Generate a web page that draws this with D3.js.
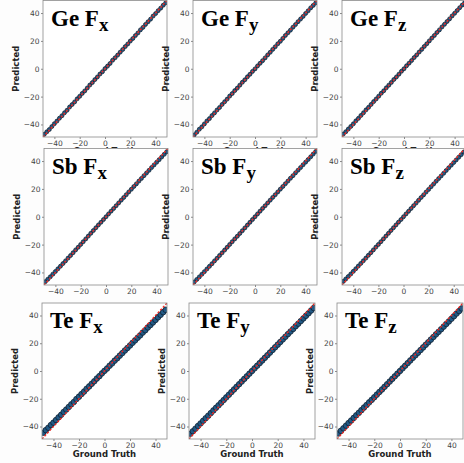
<!DOCTYPE html>
<html>
<head>
<meta charset="utf-8">
<script src="https://cdn.jsdelivr.net/npm/d3@7"></script>
<style>
  body { margin: 0; background: #fff; }
  svg { display: block; }
</style>
</head>
<body>
<div id="chart"></div>
<script>
// ground truth force values (shared x positions for every panel)
var truth = [-48,-46,-44,-42,-40,-38,-36,-34,-32,-30,-28,-26,-24,-22,-20,-18,-16,-14,-12,-10,-8,-6,-4,-2,0,
             2,4,6,8,10,12,14,16,18,20,22,24,26,28,30,32,34,36,38,40,42,44,46,48];

// predicted values, one array per panel
var ge_fx = [-47.1,-45.3,-43.6,-41.5,-39.4,-37.6,-35.5,-33.7,-31.6,-29.8,-27.5,-25.7,-23.8,-21.6,-19.8,-17.7,-15.9,-13.8,-11.7,-9.9,-7.8,-5.9,-3.8,-2.1,0.1,
             1.9,3.8,6.1,7.9,9.8,11.9,13.8,15.9,17.8,19.9,21.7,23.8,25.7,27.9,29.7,31.8,33.7,35.6,37.8,39.6,41.7,43.5,45.6,47.4];
var ge_fy = [-47.5,-45.6,-43.4,-41.7,-39.6,-37.5,-35.8,-33.6,-31.7,-29.6,-27.8,-25.6,-23.7,-21.8,-19.6,-17.8,-15.7,-13.9,-11.8,-9.7,-7.9,-5.8,-4.0,-1.9,-0.1,
             2.0,3.9,5.8,7.8,9.9,11.8,13.9,15.8,17.9,19.7,21.8,23.9,25.8,27.7,29.8,31.7,33.8,35.7,37.6,39.7,41.6,43.7,45.5,47.3];
var ge_fz = [-46.9,-45.2,-43.3,-41.4,-39.5,-37.4,-35.6,-33.5,-31.6,-29.5,-27.7,-25.6,-23.6,-21.7,-19.7,-17.6,-15.8,-13.7,-11.8,-9.8,-7.7,-5.9,-3.9,-1.8,0.0,
             2.1,4.0,5.9,8.0,9.9,12.0,13.9,16.0,17.9,20.0,22.0,23.9,26.0,27.9,30.0,31.9,33.9,35.8,37.9,39.8,41.8,43.8,45.7,47.6];
var sb_fx = [-46.6,-44.9,-43.1,-41.2,-39.3,-37.4,-35.5,-33.6,-31.7,-29.7,-27.8,-25.8,-23.8,-21.9,-19.9,-17.9,-15.9,-13.9,-11.9,-9.9,-7.9,-5.9,-4.0,-2.0,0.0,
             2.0,4.0,5.9,7.9,9.9,11.9,13.8,15.8,17.8,19.7,21.7,23.6,25.6,27.5,29.5,31.4,33.3,35.3,37.2,39.1,41.0,42.9,44.8,46.7];
var sb_fy = [-46.8,-45.0,-43.2,-41.3,-39.4,-37.5,-35.6,-33.7,-31.7,-29.8,-27.8,-25.9,-23.9,-21.9,-19.9,-17.9,-15.9,-14.0,-12.0,-10.0,-8.0,-6.0,-4.0,-2.0,0.0,
             2.0,4.0,6.0,7.9,9.9,11.9,13.9,15.8,17.8,19.8,21.7,23.7,25.6,27.6,29.5,31.5,33.4,35.3,37.3,39.2,41.1,43.0,45.0,46.9];
var sb_fz = [-46.4,-44.7,-42.9,-41.1,-39.2,-37.3,-35.4,-33.5,-31.6,-29.7,-27.7,-25.8,-23.8,-21.8,-19.9,-17.9,-15.9,-13.9,-11.9,-9.9,-7.9,-5.9,-3.9,-2.0,0.0,
             2.0,3.9,5.9,7.9,9.8,11.8,13.8,15.7,17.7,19.6,21.6,23.5,25.5,27.4,29.3,31.2,33.2,35.1,37.0,38.9,40.8,42.7,44.6,46.5];
var te_fx = [-44.5,-42.6,-40.9,-38.9,-37.2,-35.3,-33.4,-31.6,-29.5,-27.8,-25.9,-24.0,-22.3,-20.2,-18.5,-16.6,-14.8,-12.8,-11.1,-9.2,-7.4,-5.4,-3.7,-1.7,0.1,
             1.8,3.8,5.5,7.5,9.2,11.1,12.9,14.8,16.6,18.4,20.3,22.1,24.0,25.7,27.7,29.4,31.4,33.1,35.0,36.8,38.7,40.5,42.4,44.1];
var te_fy = [-45.2,-43.4,-41.6,-39.6,-37.8,-35.9,-34.0,-32.2,-30.3,-28.4,-26.5,-24.7,-22.8,-20.9,-19.0,-17.1,-15.2,-13.3,-11.4,-9.5,-7.6,-5.7,-3.8,-1.9,0.0,
             1.9,3.8,5.7,7.6,9.5,11.4,13.3,15.2,17.1,19.0,20.9,22.8,24.7,26.6,28.5,30.3,32.3,34.1,36.0,37.9,39.8,41.6,43.6,45.4];
var te_fz = [-45.0,-43.1,-41.3,-39.4,-37.5,-35.7,-33.8,-31.9,-30.1,-28.2,-26.3,-24.5,-22.6,-20.8,-18.9,-17.0,-15.1,-13.3,-11.4,-9.5,-7.6,-5.7,-3.8,-1.9,0.0,
             1.9,3.8,5.7,7.6,9.5,11.3,13.2,15.1,17.0,18.9,20.7,22.6,24.5,26.4,28.2,30.1,32.0,33.9,35.7,37.6,39.5,41.4,43.2,45.1];

var elements = ["Ge", "Sb", "Te"];
var components = ["x", "y", "z"];
var predicted = [[ge_fx, ge_fy, ge_fz], [sb_fx, sb_fy, sb_fz], [te_fx, te_fy, te_fz]];
var tick_values = [-40, -20, 0, 20, 40];
var axis_domain = [-49, 49];

var W = 464, H = 463;

//Pixel boxes of each panel, the figure is a collage of separate plots
var rows = [
  {top: 0.5, bottom: 137, bg: 0, gt: 154, cols: [[43, 167], [193, 317], [342, 466]]},
  {top: 148.5, bottom: 285, bg: 148, gt: 308.5, cols: [[44, 168], [193, 317], [342, 465]]},
  {top: 303, bottom: 439, bg: 301.5, gt: 457, cols: [[42, 167], [189, 315], [337, 463]]}
];

var svg = d3.select("#chart")
  .append("svg")
  .attr("width", W)
  .attr("height", H);

svg.append("rect")
  .attr("width", W)
  .attr("height", H)
  .attr("fill", "#fdfdfd");

var fmt = function(d){ return d < 0 ? "\u2212" + Math.abs(d) : d; };

rows.forEach(function(row, r){
  //white band of this row's images, hides the x label of the row above
  svg.append("rect")
    .attr("x", 0)
    .attr("y", row.bg)
    .attr("width", W)
    .attr("height", H - row.bg)
    .attr("fill", "#fdfdfd");

  row.cols.forEach(function(c, k){
    var left = c[0], right = c[1];
    var x = d3.scaleLinear().domain(axis_domain).range([left, right]);
    var y = d3.scaleLinear().domain(axis_domain).range([row.bottom, row.top]);
    var pred = predicted[r][k];

    var g = svg.append("g");

    g.append("rect")
      .attr("x", left)
      .attr("y", row.top)
      .attr("width", right - left)
      .attr("height", row.bottom - row.top)
      .attr("fill", "#fff");

    var clipId = "clip" + r + "_" + k;
    g.append("clipPath")
      .attr("id", clipId)
      .append("rect")
      .attr("x", left)
      .attr("y", row.top)
      .attr("width", right - left)
      .attr("height", row.bottom - row.top);

    var plot = g.append("g").attr("clip-path", "url(#" + clipId + ")");

    plot.selectAll("circle")
      .data(truth)
      .enter()
      .append("circle")
      .attr("cx", function(d){ return x(d); })
      .attr("cy", function(d, i){ return y(pred[i]); })
      .attr("r", r == 2 ? 2.8 : 2)
      .attr("fill", "#225a86")
      .attr("stroke", "#0b1826")
      .attr("stroke-width", 0.7);

    //identity line
    plot.append("line")
      .attr("x1", x(axis_domain[0]))
      .attr("y1", y(axis_domain[0]))
      .attr("x2", x(axis_domain[1]))
      .attr("y2", y(axis_domain[1]))
      .attr("stroke", "#ee2b25")
      .attr("stroke-width", 1.4)
      .attr("stroke-dasharray", "2.2,1.6");

    //frame
    g.append("rect")
      .attr("x", left)
      .attr("y", row.top)
      .attr("width", right - left)
      .attr("height", row.bottom - row.top)
      .attr("fill", "none")
      .attr("stroke", "#8a8a8a")
      .attr("stroke-width", 0.8);

    var xAxis = g.append("g")
      .attr("transform", "translate(0," + row.bottom + ")")
      .call(d3.axisBottom(x).tickValues(tick_values).tickSize(2).tickPadding(1.5).tickFormat(fmt));
    var yAxis = g.append("g")
      .attr("transform", "translate(" + left + ",0)")
      .call(d3.axisLeft(y).tickValues(tick_values).tickSize(2).tickPadding(1.5).tickFormat(fmt));

    [xAxis, yAxis].forEach(function(a){
      a.select(".domain").remove();
      a.selectAll("line").attr("stroke", "#8a8a8a");
      a.selectAll("text")
        .attr("fill", "#444")
        .style("font-family", "DejaVu Sans")
        .style("font-size", "7.5px");
    });

    g.append("text")
      .attr("transform", "translate(" + (left - 24) + "," + ((row.top + row.bottom) / 2) + ") rotate(-90)")
      .attr("text-anchor", "middle")
      .style("font-family", "DejaVu Sans")
      .style("font-weight", "bold")
      .style("font-size", "8.5px")
      .attr("fill", "#222")
      .text("Predicted");

    g.append("text")
      .attr("x", (left + right) / 2)
      .attr("y", row.gt)
      .attr("text-anchor", "middle")
      .style("font-family", "DejaVu Sans")
      .style("font-weight", "bold")
      .style("font-size", "8.5px")
      .attr("fill", "#222")
      .text("Ground Truth");

    var title = g.append("text")
      .attr("x", left + 8)
      .attr("y", row.top + 25)
      .style("font-family", "Liberation Serif")
      .style("font-weight", "bold")
      .style("font-size", "23px")
      .attr("fill", "#000")
      .text(elements[r] + " F");
    title.append("tspan")
      .attr("dy", 5)
      .style("font-size", "19px")
      .text(components[k]);
  });
});
</script>
</body>
</html>
